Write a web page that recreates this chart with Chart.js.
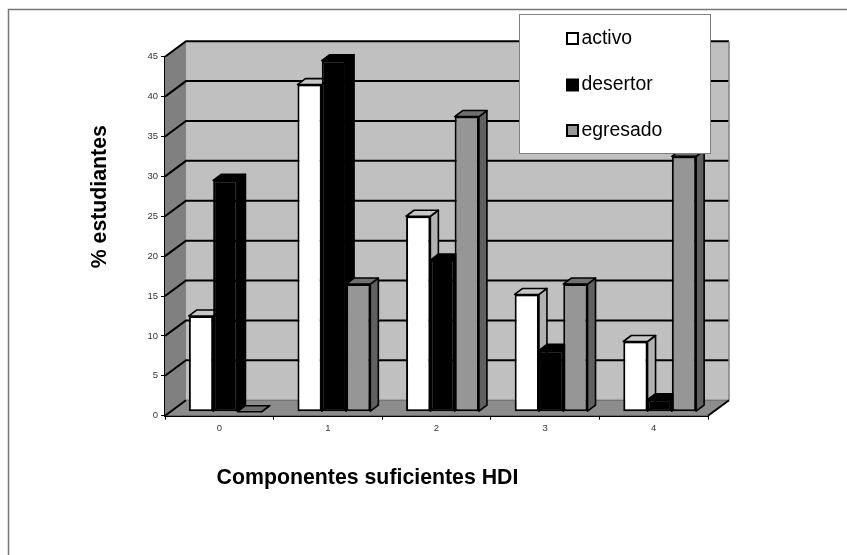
<!DOCTYPE html>
<html>
<head>
<meta charset="utf-8">
<title>Componentes suficientes HDI</title>
<style>
  html, body { margin: 0; padding: 0; background: #fff; }
  #wrap { position: relative; width: 847px; height: 555px; }
</style>
</head>
<body>
<div id="wrap"><canvas id="chart" width="847" height="555"></canvas></div>
<script src="https://cdn.jsdelivr.net/npm/chart.js@4/dist/chart.umd.min.js"></script>
<script>
const categories = ['0', '1', '2', '3', '4']
const activo = [12, 41, 24.5, 14.7, 8.8]
const desertor = [29, 44, 19, 7.7, 1.5]
const egresado = [0, 16, 37, 16, 32]
const xTitle = 'Componentes suficientes HDI'
const yTitle = '% estudiantes'

// 3d look: how far the back wall sits behind the axes, and how deep a bar is
const wallDx = 21
const wallDy = -15.5
const barShiftX = 6
const barShiftY = -4
const barDx = 8
const barDy = -6

const faces = [
  { front: '#ffffff', side: '#b2b2b2', top: '#c8c8c8' },
  { front: '#000000', side: '#000000', top: '#000000' },
  { front: '#969696', side: '#606060', top: '#707070' }
]

function poly(ctx, points, fill, stroke, lineWidth) {
  ctx.beginPath()
  points.forEach((p, i) => (i ? ctx.lineTo(p[0], p[1]) : ctx.moveTo(p[0], p[1])))
  ctx.closePath()
  if (fill) {
    ctx.fillStyle = fill
    ctx.fill()
  }
  if (stroke) {
    ctx.strokeStyle = stroke
    ctx.lineWidth = lineWidth
    ctx.stroke()
  }
}

const walls = {
  id: 'walls',
  beforeDatasetsDraw(chart) {
    const ctx = chart.ctx
    const { left, right } = chart.chartArea
    const yAxis = chart.scales.y
    const top = yAxis.getPixelForValue(45)
    const bottom = yAxis.getPixelForValue(0)
    ctx.save()
    ctx.lineJoin = 'miter'

    // back wall, left wall, floor
    poly(ctx, [[left + wallDx, top + wallDy], [right + wallDx, top + wallDy], [right + wallDx, bottom + wallDy], [left + wallDx, bottom + wallDy]], '#c0c0c0')
    poly(ctx, [[left, top], [left + wallDx, top + wallDy], [left + wallDx, bottom + wallDy], [left, bottom]], '#808080')
    poly(ctx, [[left, bottom], [left + wallDx, bottom + wallDy], [right + wallDx, bottom + wallDy], [right, bottom]], '#8c8c8c')

    // grid lines running round the walls
    yAxis.ticks.forEach((tick) => {
      const y = yAxis.getPixelForValue(tick.value)
      ctx.beginPath()
      ctx.moveTo(left, y)
      ctx.lineTo(left + wallDx, y + wallDy)
      if (tick.value > 0) ctx.lineTo(right + wallDx, y + wallDy)
      ctx.strokeStyle = '#000000'
      ctx.lineWidth = 2
      ctx.stroke()
    })

    ctx.beginPath()
    ctx.moveTo(left + wallDx, bottom + wallDy)
    ctx.lineTo(right + wallDx, bottom + wallDy)
    ctx.strokeStyle = '#606060'
    ctx.lineWidth = 1
    ctx.stroke()
    ctx.beginPath()
    ctx.moveTo(right + wallDx, top + wallDy)
    ctx.lineTo(right + wallDx, bottom + wallDy)
    ctx.strokeStyle = '#808080'
    ctx.lineWidth = 1.5
    ctx.stroke()
    ctx.beginPath()
    ctx.moveTo(right + wallDx, bottom + wallDy)
    ctx.lineTo(right, bottom)
    ctx.strokeStyle = '#000000'
    ctx.lineWidth = 2
    ctx.stroke()

    // bars go left to right so a neighbour hides the side of the bar before it
    ctx.translate(barShiftX, barShiftY)
    ctx.lineJoin = 'round'
    chart.getSortedVisibleDatasetMetas().forEach((meta, i) => {
      const face = faces[i]
      meta.data.forEach((bar) => {
        const l = bar.x - bar.width / 2
        const r = bar.x + bar.width / 2
        poly(ctx, [[r, bar.y], [r + barDx, bar.y + barDy], [r + barDx, bar.base + barDy], [r, bar.base]], face.side, '#000000', 1.6)
        poly(ctx, [[l, bar.y], [l + barDx, bar.y + barDy], [r + barDx, bar.y + barDy], [r, bar.y]], face.top, '#000000', 1.6)
        bar.draw(ctx)
      })
    })
    ctx.restore()
  },
  // already drawn above, in the order we need
  beforeDatasetDraw() {
    return false
  },
  afterDraw(chart) {
    const ctx = chart.ctx
    ctx.save()
    ctx.strokeStyle = '#777777'
    ctx.lineWidth = 1.5
    ctx.beginPath()
    ctx.moveTo(8.5, 555)
    ctx.lineTo(8.5, 9.5)
    ctx.lineTo(847, 9.5)
    ctx.stroke()

    // legend box
    ctx.fillStyle = '#ffffff'
    ctx.fillRect(520, 15, 190, 138)
    ctx.strokeStyle = '#808080'
    ctx.lineWidth = 1
    ctx.strokeRect(519.5, 14.5, 191, 139)

    ctx.font = '19.4px "Liberation Sans"'
    ctx.textBaseline = 'middle'
    ctx.textAlign = 'left'
    const rows = [38.5, 85, 130.5]
    chart.data.datasets.forEach((ds, i) => {
      ctx.fillStyle = ds.backgroundColor
      ctx.fillRect(567, rows[i] - 5.5, 11, 11)
      ctx.strokeStyle = '#000000'
      ctx.lineWidth = 2
      ctx.strokeRect(567, rows[i] - 5.5, 11, 11)
      ctx.fillStyle = '#000000'
      ctx.fillText(ds.label, 581.5, rows[i])
    })

    // axis titles sit off centre in the original, so they are placed by hand
    ctx.font = 'bold 21.3px "Liberation Sans"'
    ctx.textAlign = 'center'
    ctx.textBaseline = 'alphabetic'
    ctx.fillText(xTitle, 367.5, 484)
    ctx.translate(106, 196.7)
    ctx.rotate(-Math.PI / 2)
    ctx.fillText(yTitle, 0, 0)
    ctx.restore()
  }
}

new Chart(document.getElementById('chart'), {
  type: 'bar',
  data: {
    labels: categories,
    datasets: [
      { label: 'activo', data: activo, backgroundColor: faces[0].front },
      { label: 'desertor', data: desertor, backgroundColor: faces[1].front },
      { label: 'egresado', data: egresado, backgroundColor: faces[2].front }
    ]
  },
  plugins: [walls],
  options: {
    responsive: false,
    animation: false,
    layout: { padding: { left: 135, right: 139, top: 56.7, bottom: 119.3 } },
    datasets: {
      bar: {
        categoryPercentage: 0.671,
        barPercentage: 1,
        borderColor: '#000000',
        borderWidth: 2,
        borderSkipped: false
      }
    },
    plugins: {
      legend: { display: false },
      tooltip: { enabled: false }
    },
    scales: {
      x: {
        afterFit(scale) {
          scale.height = 20
        },
        grid: { drawOnChartArea: false, tickLength: 4, color: '#000000', tickWidth: 1 },
        border: { color: '#000000', width: 2 },
        ticks: { color: '#333333', font: { family: 'Liberation Sans', size: 9.5 }, padding: 3 }
      },
      y: {
        min: 0,
        max: 45,
        afterFit(scale) {
          scale.width = 30
        },
        grid: { drawOnChartArea: false, tickLength: 4, color: '#000000', tickWidth: 1 },
        border: { color: '#000000', width: 2 },
        ticks: { stepSize: 5, color: '#333333', font: { family: 'Liberation Sans', size: 9.5 }, padding: 3 }
      }
    }
  }
})
</script>
</body>
</html>
